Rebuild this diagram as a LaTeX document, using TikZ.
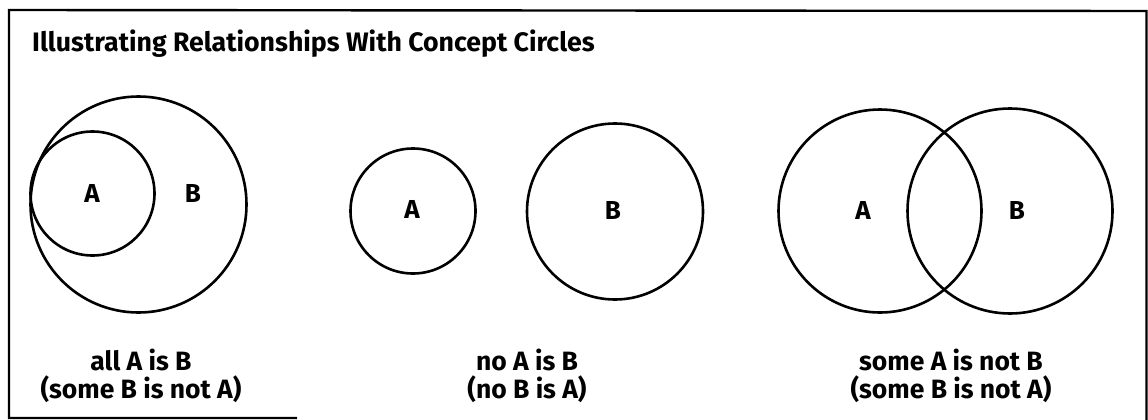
\documentclass[tikz,border=0pt]{standalone}
\usepackage{fontspec}
\setmainfont{Fira Sans}
\begin{document}
\begin{tikzpicture}[x=1pt,y=-1pt,
  circ/.style={draw=black,line width=2.6pt,circle,inner sep=0pt},
  lab/.style={font=\fontsize{26}{28}\selectfont\bfseries,inner sep=0pt},
  captext/.style={font=\fontsize{26.5}{27.5}\selectfont\bfseries,align=center,inner sep=0pt},
  frameline/.style={line width=2.4pt}]
\useasboundingbox (0,0) rectangle (1148,420);
% frame
\coordinate (f1) at (297,418);
\coordinate (f2) at (9,418);
\coordinate (f3) at (9,10);
\coordinate (f4) at (1146.5,11);
\coordinate (f5) at (1146.5,420);
\draw[frameline] (f1) -- (f2) -- (f3) -- (f4) -- (f5);
% title
\node[anchor=west,font=\fontsize{26.7}{28}\selectfont\bfseries,inner sep=0pt] (title) at (32,44) {Illustrating Relationships With Concept Circles};
% panel 1
\node[circ,minimum size=216pt] (B1) at (138.5,204.5) {};
\node[circ,minimum size=124pt] (A1) at (92.5,193.5) {};
\node[lab] (a1) at (92,193) {A};
\node[lab] (b1) at (193,193) {B};
\node[captext] (c1) at (141,376) {all A is B\\(some B is not A)};
% panel 2
\node[circ,minimum size=125pt] (A2) at (413,211) {};
\node[circ,minimum size=176pt] (B2) at (615,211.5) {};
\node[lab] (a2) at (412,209) {A};
\node[lab] (b2) at (613,210) {B};
\node[captext] (c2) at (527,376) {no A is B\\(no B is A)};
% panel 3
\node[circ,minimum size=203pt] (A3) at (880,211) {};
\node[circ,minimum size=205pt] (B3) at (1010,211) {};
\node[lab] (a3) at (863,210) {A};
\node[lab] (b3) at (1017,210) {B};
\node[captext] (c3) at (951,376) {some A is not B\\(some B is not A)};
\end{tikzpicture}
\end{document}
